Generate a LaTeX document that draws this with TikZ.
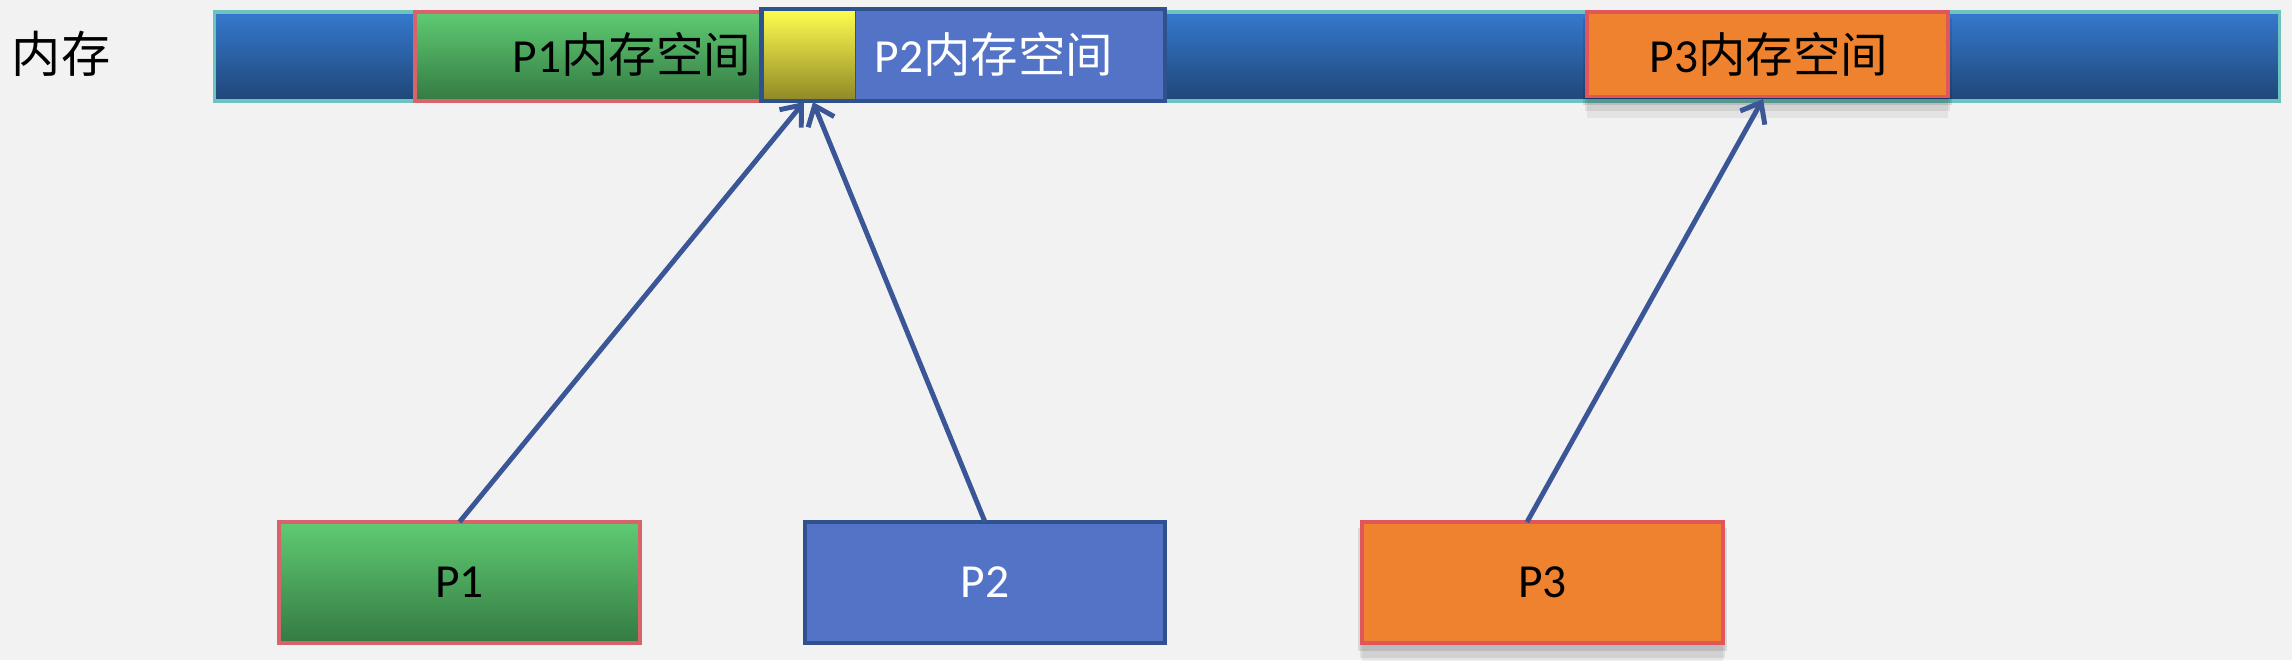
\documentclass[tikz,border=0pt]{standalone}
\usepackage{fontspec}
\setmainfont{Carlito}
\newfontfamily\cjkfont{Noto Sans CJK SC}
\usetikzlibrary{arrows.meta,shadows,fit}
\newcommand\myzh[1]{{\cjkfont #1}}
\definecolor{bg}{HTML}{F2F2F2}
\definecolor{bartop}{HTML}{3579CE}
\definecolor{barbot}{HTML}{1F4677}
\definecolor{barline}{HTML}{6EC3BE}
\definecolor{gtop}{HTML}{5FCB73}
\definecolor{gbot}{HTML}{347A42}
\definecolor{redline}{HTML}{D8636B}
\definecolor{ytop}{HTML}{FFFF4F}
\definecolor{ybot}{HTML}{8E8726}
\definecolor{pblue}{HTML}{5374C6}
\definecolor{pblueline}{HTML}{2F528F}
\definecolor{orng}{HTML}{EE822F}
\definecolor{orngline}{HTML}{E0565A}
\definecolor{arr}{HTML}{3A5697}
\begin{document}
\begin{tikzpicture}[x=0.01cm,y=-0.01cm,
  every node/.style={inner sep=0pt,outer sep=0pt,font=\fontsize{13.5}{16}\selectfont},
  greenbox/.style={top color=gtop,middle color=gtop!80!gbot,bottom color=gbot,draw=redline,line width=1pt},
  bluebox/.style={fill=pblue,draw=pblueline,line width=1pt},
  orangebox/.style={fill=orng,draw=orngline,line width=1pt,
     drop shadow={shadow xshift=0pt,shadow yshift=-2pt,opacity=0.10,fill=black,shadow scale=1.02},
     drop shadow={shadow xshift=0pt,shadow yshift=-4pt,opacity=0.08,fill=black,shadow scale=1.01},
     drop shadow={shadow xshift=0pt,shadow yshift=-6pt,opacity=0.06,fill=black,shadow scale=1.0}},
  conn/.style={draw=arr,line width=1.4pt,-{Straight Barb[length=5pt,width=8pt,line width=1.4pt]}}
]
\useasboundingbox[fill=bg] (0,0) rectangle (2292,660);

% label
\node[font=\fontsize{14}{16}\selectfont] (lbl) at (61,54) {\myzh{内存}};

% memory bar
\node[top color=bartop,middle color=bartop!80!barbot,bottom color=barbot,draw=barline,line width=1pt,
      minimum width=20.64cm,minimum height=0.89cm] (bar) at (1247,56.5) {};

% P1 memory
\node[greenbox,minimum width=3.465cm,minimum height=0.89cm] (p1m) at (588.25,56.5) {};
\node (p1mt) at (632,54) {P1\myzh{内存空间}};

% yellow overlap and P2 memory
\node[top color=ytop,middle color=ytop!75!ybot,bottom color=ybot,draw=pblueline,line width=0.8pt,
      minimum width=0.95cm,minimum height=0.92cm] (yel) at (809,55) {};
\node[fill=pblue,minimum width=3.085cm,minimum height=0.92cm] (p2m) at (1010.75,55) {};
\node[fit=(yel)(p2m),draw=pblueline,line width=1.2pt] (p2frame) {};
\node[text=white] (p2mt) at (994,54) {P2\myzh{内存空间}};

% P3 memory
\node[orangebox,minimum width=3.61cm,minimum height=0.845cm] (p3m) at (1767.5,54.25) {};
\node (p3mt) at (1769,54) {P3\myzh{内存空间}};

% process boxes
\node[greenbox,minimum width=3.61cm,minimum height=1.21cm] (p1) at (459.5,582.5) {P1};
\node[bluebox,text=white,minimum width=3.60cm,minimum height=1.21cm] (p2) at (985,582.5) {P2};
\node[orangebox,minimum width=3.61cm,minimum height=1.21cm] (p3) at (1542.5,582.5) {P3};

% arrow targets
\coordinate (a1) at (804,102);
\coordinate (a2) at (813,102);
\coordinate (a3) at (1763,99);
\coordinate (s3) at (1527,522);

\draw[conn] (p1.north) -- (a1);
\draw[conn] (p2.north) -- (a2);
\draw[conn] (s3) -- (a3);
\end{tikzpicture}
\end{document}
